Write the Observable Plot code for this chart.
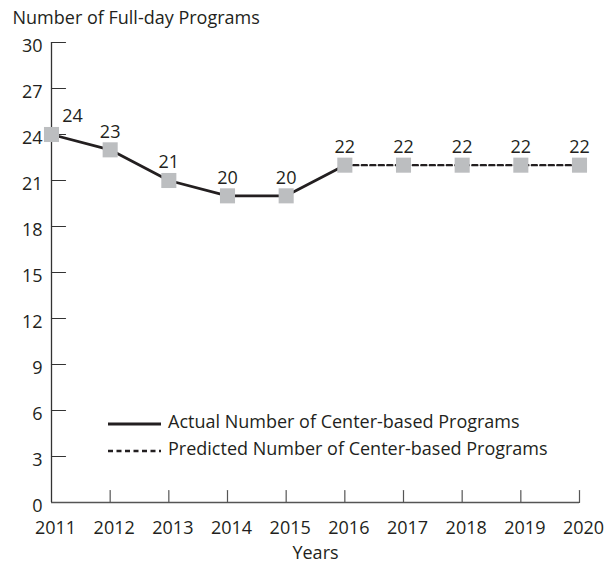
<!DOCTYPE html>
<html><head><meta charset="utf-8">
<script src="https://cdn.jsdelivr.net/npm/d3@7"></script>
<script src="https://cdn.jsdelivr.net/npm/@observablehq/plot@0.6"></script>
<style>body{margin:0;background:#fff;}</style>
</head><body><div id="chart"></div>
<script>
const years = [2011, 2012, 2013, 2014, 2015, 2016, 2017, 2018, 2019, 2020];
const values = [24, 23, 21, 20, 20, 22, 22, 22, 22, 22];
const actualYears = [2011, 2012, 2013, 2014, 2015, 2016];
const actualValues = [24, 23, 21, 20, 20, 22];
const predictedYears = [2016, 2017, 2018, 2019, 2020];
const predictedValues = [22, 22, 22, 22, 22];
const yTicks = [0, 3, 6, 9, 12, 15, 18, 21, 24, 27, 30];
const seriesNames = ["Actual Number of Center-based Programs", "Predicted Number of Center-based Programs"];
const yTitle = "Number of Full-day Programs";
const xTitle = "Years";

const points = years.map((x, i) => ({x, y: values[i]}));
const actual = actualYears.map((x, i) => ({x, y: actualValues[i]}));
const predicted = predictedYears.map((x, i) => ({x, y: predictedValues[i]}));

const tickShape = {draw(ctx, l) { ctx.moveTo(0, 0); ctx.lineTo(0, -l); }};
const ink = "#231f20";
const font = "'Open Sans', 'Noto Sans', sans-serif";
const fs = 18;
const dash = "5,3.5";

const chart = Plot.plot({
  width: 611, height: 564,
  marginLeft: 51, marginRight: 32, marginTop: 42, marginBottom: 62,
  style: {fontFamily: font, fontSize: fs + "px", color: ink, background: "#fff"},
  x: {domain: [2011, 2020]},
  y: {domain: [0, 30]},
  marks: [
    Plot.axisX(years, {tickSize: 0, tickPadding: 19, dx: 4, tickFormat: d => String(d), label: null, fontSize: fs}),
    Plot.axisY(yTicks, {tickSize: 0, tickPadding: 9, dy: 4, label: null, fontSize: fs}),
    Plot.ruleY([0], {stroke: "#555", strokeWidth: 1.3}),
    Plot.ruleX([2011], {stroke: "#333", strokeWidth: 1.3}),
    Plot.vector(years.slice(1), {x: d => d, y: 0, length: 12, rotate: 0, anchor: "start", shape: tickShape, stroke: "#555", strokeWidth: 1.2}),
    Plot.vector(yTicks.slice(1), {x: 2011, y: d => d, length: 14, rotate: 90, anchor: "start", shape: tickShape, stroke: "#333", strokeWidth: 1.2}),
    Plot.line(actual, {x: "x", y: "y", stroke: ink, strokeWidth: 2.8}),
    Plot.line(predicted, {x: "x", y: "y", stroke: ink, strokeWidth: 2.4, strokeDasharray: dash}),
    Plot.dot(points, {x: "x", y: "y", symbol: "square", r: 8.5, fill: "#bcbec0", stroke: null}),
    Plot.text(points.slice(0, 1), {x: "x", y: "y", text: d => String(d.y), dx: 21, dy: -18, fontSize: fs, fill: ink}),
    Plot.text(points.slice(1), {x: "x", y: "y", text: d => String(d.y), dy: -18, fontSize: fs, fill: ink}),
    Plot.text([yTitle], {frameAnchor: "top-left", dx: -39, dy: -31, textAnchor: "start", fontSize: fs, fill: ink}),
    Plot.text([xTitle], {frameAnchor: "bottom", dy: 56, fontSize: fs, fill: ink})
  ]
});

// legend (layout only)
const svg = d3.select(chart);
const lg = svg.append("g").attr("font-family", font).attr("font-size", fs).attr("fill", ink).attr("text-anchor", "start");
const legendItems = [
  {name: seriesNames[0], dash: null, y: 424},
  {name: seriesNames[1], dash: dash, y: 451}
];
legendItems.forEach(it => {
  lg.append("line").attr("x1", 108).attr("x2", 161).attr("y1", it.y).attr("y2", it.y)
    .attr("stroke", ink).attr("stroke-width", it.dash ? 2.4 : 2.8)
    .attr("stroke-dasharray", it.dash);
  lg.append("text").attr("x", 168).attr("y", it.y - 2).attr("dy", "0.35em").attr("text-anchor", "start").text(it.name);
});

document.getElementById("chart").appendChild(chart);
</script>
</body></html>
